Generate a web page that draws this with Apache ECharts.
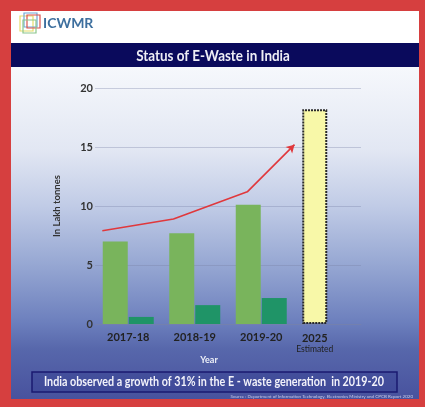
<!DOCTYPE html>
<html><head><meta charset="utf-8">
<script src="https://cdn.jsdelivr.net/npm/echarts@6/dist/echarts.min.js"></script>
<style>html,body{margin:0;padding:0;background:#fff}#c{width:425px;height:407px}</style>
</head><body><div id="c"></div>
<script>
var categories = ['2017-18', '2018-19', '2019-20', '2025'];
var generation = [7.0, 7.7, 10.1, '-'];
var processed = [0.6, 1.6, 2.2, '-'];
var estimated = ['-', '-', '-', 18.2];
var trendX = [0.11, 1.18, 2.29, 3.0];
var trendY = [7.9, 8.9, 11.2, 15.2];
var yTicks = [0, 5, 10, 15, 20];

var trendData = trendX.map(function (x, i) {
  var d = { value: [x, trendY[i]] };
  if (i === trendX.length - 1) { d.symbol = 'arrow'; d.symbolSize = [7, 8]; d.symbolRotate = -45; }
  return d;
});

var chart = echarts.init(document.getElementById('c'), null, { renderer: 'canvas' });
var F = 'Lato, "Noto Sans", sans-serif';
chart.setOption({
  animation: false,
  textStyle: { fontFamily: F },
  graphic: [
    { type: 'rect', z: -10, shape: { x: 0, y: 0, width: 425, height: 407 }, style: { fill: '#d63f3f' } },
    { type: 'rect', z: -9, shape: { x: 11, y: 11, width: 408, height: 388 }, style: { fill: '#ffffff' } },
    { type: 'rect', z: -8, shape: { x: 11, y: 67, width: 408, height: 332 },
      style: { fill: new echarts.graphic.LinearGradient(0, 0, 0, 1, [
        { offset: 0, color: '#f6f8fc' }, { offset: 0.25, color: '#e2e7f3' },
        { offset: 0.42, color: '#c0cbe6' }, { offset: 0.6, color: '#95a6d2' },
        { offset: 0.77, color: '#6c7fbd' }, { offset: 0.85, color: '#5767ab' },
        { offset: 1, color: '#48529e' }]) } },
    { type: 'rect', z: -7, shape: { x: 11, y: 43, width: 408, height: 24 }, style: { fill: '#0a0a5c' } },
    { type: 'text', z: 5, x: 213, y: 56, scaleX: 0.84, style: { text: 'Status of E-Waste in India', fill: '#eeeef5', font: 'bold 16px ' + F, align: 'center', verticalAlign: 'middle' } },
    // logo
    { type: 'rect', z: 5, shape: { x: 20, y: 16, width: 13, height: 15 }, style: { fill: 'none', stroke: '#e6dd6a', lineWidth: 1.2 } },
    { type: 'rect', z: 5, shape: { x: 24, y: 13, width: 13, height: 14 }, style: { fill: 'none', stroke: '#6fa8d8', lineWidth: 1.2 } },
    { type: 'rect', z: 5, shape: { x: 27, y: 15, width: 13, height: 13 }, style: { fill: 'none', stroke: '#d9534f', lineWidth: 1.2 } },
    { type: 'rect', z: 5, shape: { x: 23, y: 20, width: 13, height: 13 }, style: { fill: 'none', stroke: '#8cc68c', lineWidth: 1.2 } },
    { type: 'text', z: 5, x: 43, y: 23, style: { text: 'ICWMR', fill: '#3d6f9e', font: 'bold 14px ' + F, verticalAlign: 'middle' } },
    // x axis title
    { type: 'text', z: 6, x: 209, y: 360, style: { text: 'Year', fill: '#eef1f8', font: 'bold 9px ' + F, align: 'center', verticalAlign: 'middle' } },
    // bottom note
    { type: 'rect', z: 5, shape: { x: 32, y: 372, width: 365, height: 20 }, style: { fill: 'rgba(45,55,140,0.35)', stroke: '#1a1a70', lineWidth: 1.5 } },
    { type: 'text', z: 6, x: 214, y: 382, scaleX: 0.86, style: { text: 'India observed a growth of 31% in the E - waste generation  in 2019-20', fill: '#f2f2fa', font: 'bold 12.5px ' + F, align: 'center', verticalAlign: 'middle' } },
    { type: 'text', z: 6, x: 413, y: 397, style: { text: 'Source : Department of Information Technology, Electronics Ministry and CPCB Report 2020', fill: '#c8cce8', font: '4.5px ' + F, align: 'right', verticalAlign: 'middle' } }
  ],
  grid: { left: 95, right: 64, top: 88, bottom: 83 },
  xAxis: [{
    type: 'category', data: categories,
    axisTick: { show: false },
    axisLine: { show: true, lineStyle: { color: 'rgba(120,130,170,0.5)' } },
    axisLabel: {
      margin: 8, interval: 0,
      formatter: function (v, i) {
        if (i === categories.length - 1) return '{a|' + v + '}\n{b|Estimated}';
        return '{m|' + v + '}';
      },
      rich: {
        m: { fontSize: 11, fontWeight: 'bold', color: '#222' },
        a: { fontSize: 11, fontWeight: 'bold', color: '#222', padding: [0, 26, 0, 0], lineHeight: 12 },
        b: { fontSize: 8.5, color: '#222', padding: [0, 26, 0, 0], lineHeight: 10 }
      }
    }
  }, {
    type: 'value', min: 0, max: 4, show: false
  }],
  yAxis: {
    type: 'value', min: yTicks[0], max: yTicks[yTicks.length - 1], interval: 5,
    name: 'In Lakh tonnes', nameLocation: 'middle', nameGap: 33, nameRotate: 90,
    nameTextStyle: { color: '#333', fontSize: 9.5, fontWeight: 'bold' },
    axisLine: { show: false }, axisTick: { show: false },
    axisLabel: { margin: 2, color: '#333', fontSize: 11, fontWeight: 'bold' },
    splitLine: { lineStyle: { color: 'rgba(120,130,165,0.35)', width: 1 } }
  },
  series: [
    { type: 'bar', name: 'Generated', stack: 'a', data: generation, barWidth: 25, barGap: '4%', itemStyle: { color: '#79b45c' } },
    { type: 'bar', name: 'Estimated', stack: 'a', data: estimated, barWidth: 25,
      itemStyle: { color: '#f8f8a8', borderColor: '#2a2a2a', borderWidth: 2, borderType: [2, 1] } },
    { type: 'bar', name: 'Processed', data: processed, barWidth: 25, barGap: '4%', itemStyle: { color: '#1f9467' } },
    { type: 'line', xAxisIndex: 1, data: trendData, symbol: 'none', showSymbol: true,
      lineStyle: { color: '#e0383c', width: 1.6 }, itemStyle: { color: '#e0383c' }, z: 10 }
  ]
});
</script></body></html>
